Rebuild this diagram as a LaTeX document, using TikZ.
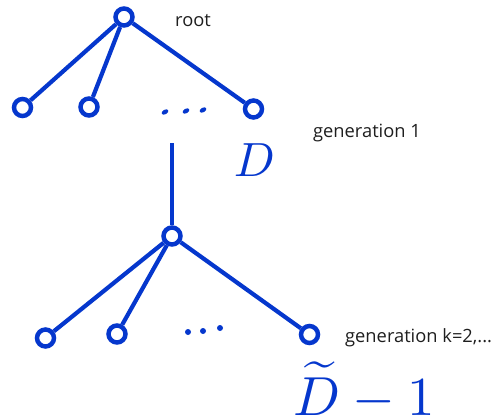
\documentclass[tikz,border=0pt]{standalone}
\usepackage[no-math]{fontspec}
\newfontfamily\labelfont{Open Sans}
\usetikzlibrary{shapes.geometric}
\definecolor{treeblue}{RGB}{5,55,205}
\definecolor{labelgray}{RGB}{30,30,30}
\begin{document}
\begin{tikzpicture}[x=1pt,y=-1pt,
  vert/.style={circle,draw=treeblue,line width=4.5pt,minimum size=17pt,inner sep=0pt,fill=white},
  edge/.style={draw=treeblue,line width=4.2pt},
  lab/.style={text=labelgray,font=\labelfont\fontsize{18.3}{20}\selectfont,anchor=base west,inner sep=0pt},
  tdot/.style={ellipse,fill=treeblue,minimum width=7.5pt,minimum height=4.5pt,inner sep=0pt,rotate=30},
  bdot/.style={circle,fill=treeblue,minimum size=6pt,inner sep=0pt},
  mlab/.style={text=treeblue,anchor=base west,inner sep=0pt}]
\useasboundingbox (0,0) rectangle (493,420);
% top tree
\node[vert] (r) at (124,17) {};
\node[vert] (a1) at (22.5,107.5) {};
\node[vert] (a2) at (89,107) {};
\node[vert] (a3) at (253.5,109) {};
\draw[edge] (r) -- (a1);
\draw[edge] (r) -- (a2);
\draw[edge] (r) -- (a3);
\node[tdot] (d1) at (165,112) {};
\node[tdot] (d2) at (186,111) {};
\node[tdot] (d3) at (203,110) {};
% vertical connector
\node[vert] (b) at (172,236) {};
\coordinate (vt) at (172,143);
\draw[edge] (vt) -- (b);
% bottom tree
\node[vert] (c1) at (45.5,338) {};
\node[vert] (c2) at (117,334) {};
\node[vert] (c3) at (309.5,334.5) {};
\draw[edge] (b) -- (c1);
\draw[edge] (b) -- (c2);
\draw[edge] (b) -- (c3);
\node[bdot] (e1) at (188,332) {};
\node[bdot] (e2) at (203,331) {};
\node[bdot] (e3) at (220,328) {};
% labels
\node[lab] (lroot) at (175,27) {root};
\node[lab] (lg1) at (313,137) {generation 1};
\node[lab] (lgk) at (345,342) {generation k=2,...};
\node[mlab,scale=4.8] (mD) at (233,176) {$D$};
\node[mlab,scale=5.5] (mDt) at (292,415) {$\smash{\widetilde{D}-1}$};
\end{tikzpicture}
\end{document}
